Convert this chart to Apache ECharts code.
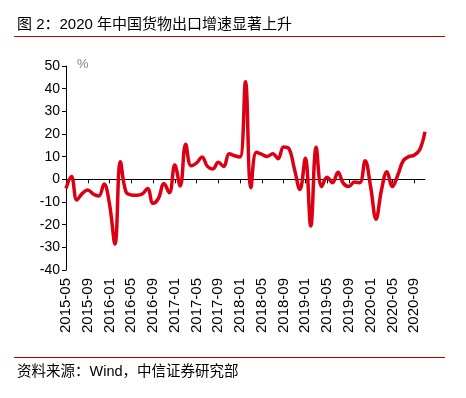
<!DOCTYPE html>
<html>
<head>
<meta charset="utf-8">
<script src="https://cdn.jsdelivr.net/npm/echarts@6/dist/echarts.min.js"></script>
<style>
html, body { margin: 0; padding: 0; background: #fff; }
#chart { width: 466px; height: 398px; }
</style>
</head>
<body>
<div id="chart"></div>
<script>
// months shown on the x axis
var months = [
	'2015-05', '2015-06', '2015-07', '2015-08', '2015-09', '2015-10', '2015-11', '2015-12',
	'2016-01', '2016-02', '2016-03', '2016-04', '2016-05', '2016-06', '2016-07', '2016-08',
	'2016-09', '2016-10', '2016-11', '2016-12', '2017-01', '2017-02', '2017-03', '2017-04',
	'2017-05', '2017-06', '2017-07', '2017-08', '2017-09', '2017-10', '2017-11', '2017-12',
	'2018-01', '2018-02', '2018-03', '2018-04', '2018-05', '2018-06', '2018-07', '2018-08',
	'2018-09', '2018-10', '2018-11', '2018-12', '2019-01', '2019-02', '2019-03', '2019-04',
	'2019-05', '2019-06', '2019-07', '2019-08', '2019-09', '2019-10', '2019-11', '2019-12',
	'2020-01', '2020-02', '2020-03', '2020-04', '2020-05', '2020-06', '2020-07', '2020-08',
	'2020-09', '2020-10', '2020-11'
];

// export growth yoy, %
var exportGrowth = [
	-4.0, 1.2, -9.1, -6.2, -4.7, -6.5, -7.4, -2.1,
	-11.0, -28.5, 7.8, -5.4, -6.9, -7.0, -6.5, -4.0,
	-10.6, -8.4, -1.8, -5.9, 6.3, -2.9, 15.5, 6.0,
	7.2, 9.9, 5.7, 4.6, 7.5, 5.7, 11.3, 10.4,
	9.9, 43.0, -3.7, 11.9, 11.0, 10.1, 11.3, 9.1,
	14.3, 13.5, 4.5, -4.5, 9.3, -20.6, 14.1, -3.2,
	0.9, -1.5, 3.1, -1.8, -3.2, -1.2, -1.5, 8.2,
	-3.2, -17.6, -4.7, 3.4, -3.2, 1.9, 8.2, 10.0,
	10.6, 12.9, 21.0
];

var yTicks = { min: -40, max: 50, step: 10 };

var titleText = '图 2：2020 年中国货物出口增速显著上升';
var sourceText = '资料来源：Wind，中信证券研究部';

var fontStack = '"Liberation Sans", Arial, "Noto Sans CJK SC", sans-serif';

var chart = echarts.init(document.getElementById('chart'));

chart.setOption({
	animation: false,
	backgroundColor: '#fff',
	textStyle: { fontFamily: fontStack },
	grid: { left: 66, right: 41, top: 66, height: 204, containLabel: false },
	graphic: [
		{
			type: 'text', left: 17, top: 17,
			style: { text: titleText, font: '15px ' + fontStack, fill: '#000' }
		},
		{
			type: 'line', shape: { x1: 14, y1: 36.5, x2: 445, y2: 36.5 },
			style: { stroke: '#C00000', lineWidth: 1 }
		},
		{
			type: 'text', left: 77, top: 58,
			style: { text: '%', font: '13px ' + fontStack, fill: '#808080' }
		},
		{
			type: 'line', shape: { x1: 14, y1: 357.5, x2: 445, y2: 357.5 },
			style: { stroke: '#C00000', lineWidth: 1 }
		},
		{
			type: 'text', left: 17, top: 365,
			style: { text: sourceText, font: '14.5px ' + fontStack, fill: '#000' }
		}
	],
	xAxis: [
		{
			// axis line sitting on zero
			type: 'category',
			data: months,
			boundaryGap: false,
			axisLine: { onZero: true, lineStyle: { color: '#000', width: 1 } },
			axisTick: { show: true, interval: 3, length: 4, inside: false, lineStyle: { color: '#000' } },
			axisLabel: { show: false },
			splitLine: { show: false }
		},
		{
			// labels at the bottom
			type: 'category',
			data: months,
			boundaryGap: false,
			position: 'bottom',
			axisLine: { show: false, onZero: false },
			axisTick: { show: false },
			axisLabel: {
				interval: 3,
				rotate: 90,
				margin: 8,
				fontSize: 15,
				color: '#000',
				fontFamily: fontStack
			},
			splitLine: { show: false }
		}
	],
	yAxis: {
		type: 'value',
		min: yTicks.min,
		max: yTicks.max,
		interval: yTicks.step,
		axisLine: { show: true, onZero: false, lineStyle: { color: '#000', width: 1 } },
		axisTick: { show: true, length: 4, lineStyle: { color: '#000' } },
		axisLabel: { fontSize: 14, color: '#000', margin: 6, fontFamily: fontStack },
		splitLine: { show: false }
	},
	series: [{
		type: 'line',
		xAxisIndex: 0,
		data: exportGrowth,
		smooth: 0.4,
		symbol: 'none',
		lineStyle: { color: '#DC0014', width: 3.5 },
		z: 3
	}]
});
</script>
</body>
</html>
